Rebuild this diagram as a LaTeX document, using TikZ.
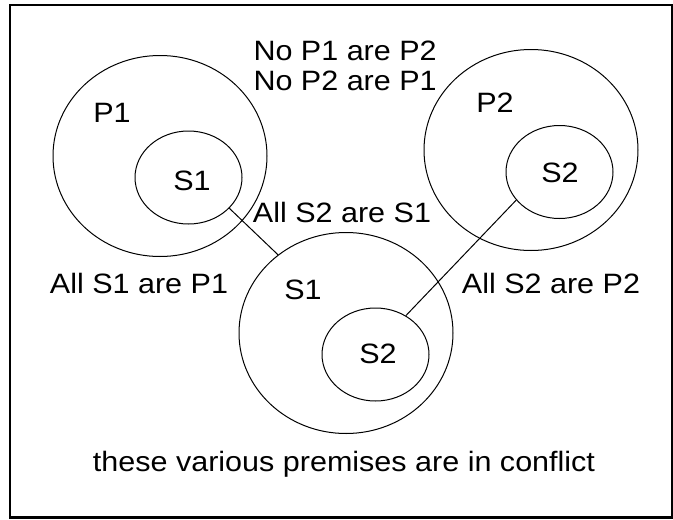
\documentclass[tikz,border=0pt]{standalone}
\usepackage{fontspec}
\setmainfont{Liberation Sans}[FakeStretch=1.09]
\usetikzlibrary{shapes.geometric}

\tikzset{
  set/.style={draw, ellipse, inner sep=0pt, line width=1pt},
  big/.style={set, minimum width=214pt, minimum height=201pt},
  small/.style={set, minimum width=107pt, minimum height=93pt},
  tag/.style={anchor=base, inner sep=0pt, font=\fontsize{28}{30}\selectfont},
}

\begin{document}
\begin{tikzpicture}[x=1pt, y=-1pt, every path/.style={line width=1pt}]
\useasboundingbox (0,0) rectangle (673,520);
\draw[line width=2.5pt] (10,5) rectangle (672.5,517.5);

% first premise: all S1 are P1
\node (P1) [big] at (160,156) {};
\node (S1a) [small] at (188.5,177.5) {};
\node (lP1) [tag] at (112,122) {P1};
\node (lS1a) [tag] at (192,190) {S1};
\node (allS1P1) [tag] at (139,293) {All S1 are P1};

% -------------------------------

\node (P2) [big] at (531,150) {};
\node (S2a) [small] at (559.5,172) {};
\node (lP2) [tag] at (495,112) {P2};
\node (lS2a) [tag] at (560,182) {S2};
\node (allS2P2) [tag] at (551,293) {All S2 are P2};

% base of a two-line node is its last line
\node (noP) [tag, anchor=base west, align=left] at (253,90) {No P1 are P2\\No P2 are P1};

% -------------------------------

\node (S1b) [big] at (346,333) {};
\node (S2b) [small] at (375.5,354.5) {};
\node (lS1b) [tag] at (303,299) {S1};
\node (lS2b) [tag] at (378,363) {S2};
\node (allS2S1) [tag] at (342,222) {All S2 are S1};

\draw (S1a.-37) -- (S1b.131.5);
\draw (S2b.52.5) -- (S2a.213.7);

\node (conflict) [tag] at (344,471) {these various premises are in conflict};
\end{tikzpicture}
\end{document}
